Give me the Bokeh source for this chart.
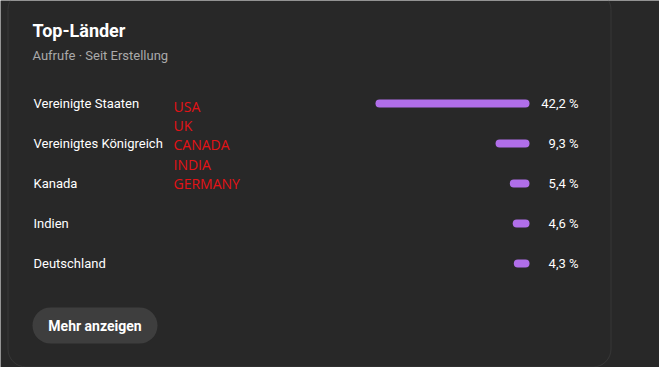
from bokeh.plotting import figure
from bokeh.models import ColumnDataSource, Range1d, BoxAnnotation, Label
from bokeh.core.properties import value
from bokeh.embed import file_html
from bokeh.resources import INLINE

# ---- data ----
countries = ["Vereinigte Staaten", "Vereinigtes Königreich", "Kanada", "Indien", "Deutschland"]
shares = [42.2, 9.3, 5.4, 4.6, 4.3]
notes = ["USA", "UK", "CANADA", "INDIA", "GERMANY"]
title_text = "Top-Länder"
subtitle_text = "Aufrufe · Seit Erstellung"
button_text = "Mehr anzeigen"

BG = "#282828"
BAR = "#b06ee9"
FONT = value("Roboto")
W, H = 659, 367

p = figure(width=W, height=H, output_backend="svg", toolbar_location=None,
           x_range=Range1d(0, W), y_range=Range1d(H, 0),
           min_border=0, background_fill_color=BG, border_fill_color=BG,
           outline_line_color=None)
p.xaxis.visible = False
p.yaxis.visible = False
p.grid.visible = False

# percentage scale: 0 at x=529, 3.65 px per percent, growing leftwards
p.extra_x_ranges = {"pct": Range1d(start=529 / 3.65, end=(529 - W) / 3.65)}
# row scale: row 0 at y=103, 40 px per row
p.extra_y_ranges = {"row": Range1d(start=(H - 103) / 40, end=-103 / 40),
                    "note": Range1d(start=(H - 106) / 19.2, end=-106 / 19.2)}

src = ColumnDataSource(dict(
    row=list(range(len(countries))),
    country=countries,
    share=shares,
    label=[f"{v:.1f}".replace(".", ",") + " %" for v in shares],
))

# card outline
p.add_layout(BoxAnnotation(left=7.5, right=610.5, top=-9, bottom=366.5,
                           fill_alpha=0, line_color="#5a5a5a", line_width=1,
                           border_radius=18))

p.hbar(y="row", left=0, right="share", height=0.2, source=src,
       x_range_name="pct", y_range_name="row",
       fill_color=BAR, line_color=None, border_radius=4)

p.text(x=33, y="row", text="country", source=src, y_range_name="row",
       text_font=FONT, text_font_size="13px", text_color="#ffffff",
       text_align="left", text_baseline="middle")

p.text(x=578, y="row", text="label", source=src, y_range_name="row",
       text_font=FONT, text_font_size="13px", text_color="#ffffff",
       text_align="right", text_baseline="middle")

note_src = ColumnDataSource(dict(row=list(range(len(notes))), note=notes))
p.text(x=173, y="row", text="note", source=note_src, y_range_name="note",
       text_font=value("Open Sans"), text_font_size="14px", text_color="#e41216",
       text_align="left", text_baseline="middle")

p.add_layout(Label(x=32, y=30, text=title_text, text_font="Roboto", text_font_size="18px",
                   text_font_style="bold", text_color="#ffffff", text_baseline="middle"))
p.add_layout(Label(x=32, y=55, text=subtitle_text, text_font="Roboto", text_font_size="13px",
                   text_color="#aaaaaa", text_baseline="middle"))

p.add_layout(BoxAnnotation(left=32, right=157, top=307, bottom=343,
                           fill_color="#3e3e3e", fill_alpha=1, line_color=None,
                           border_radius=18))
p.add_layout(Label(x=94.5, y=325, text=button_text, text_font="Roboto", text_font_size="14px",
                   text_font_style="bold", text_color="#ffffff",
                   text_align="center", text_baseline="middle"))

open("out.html", "w").write(file_html(p, INLINE))
